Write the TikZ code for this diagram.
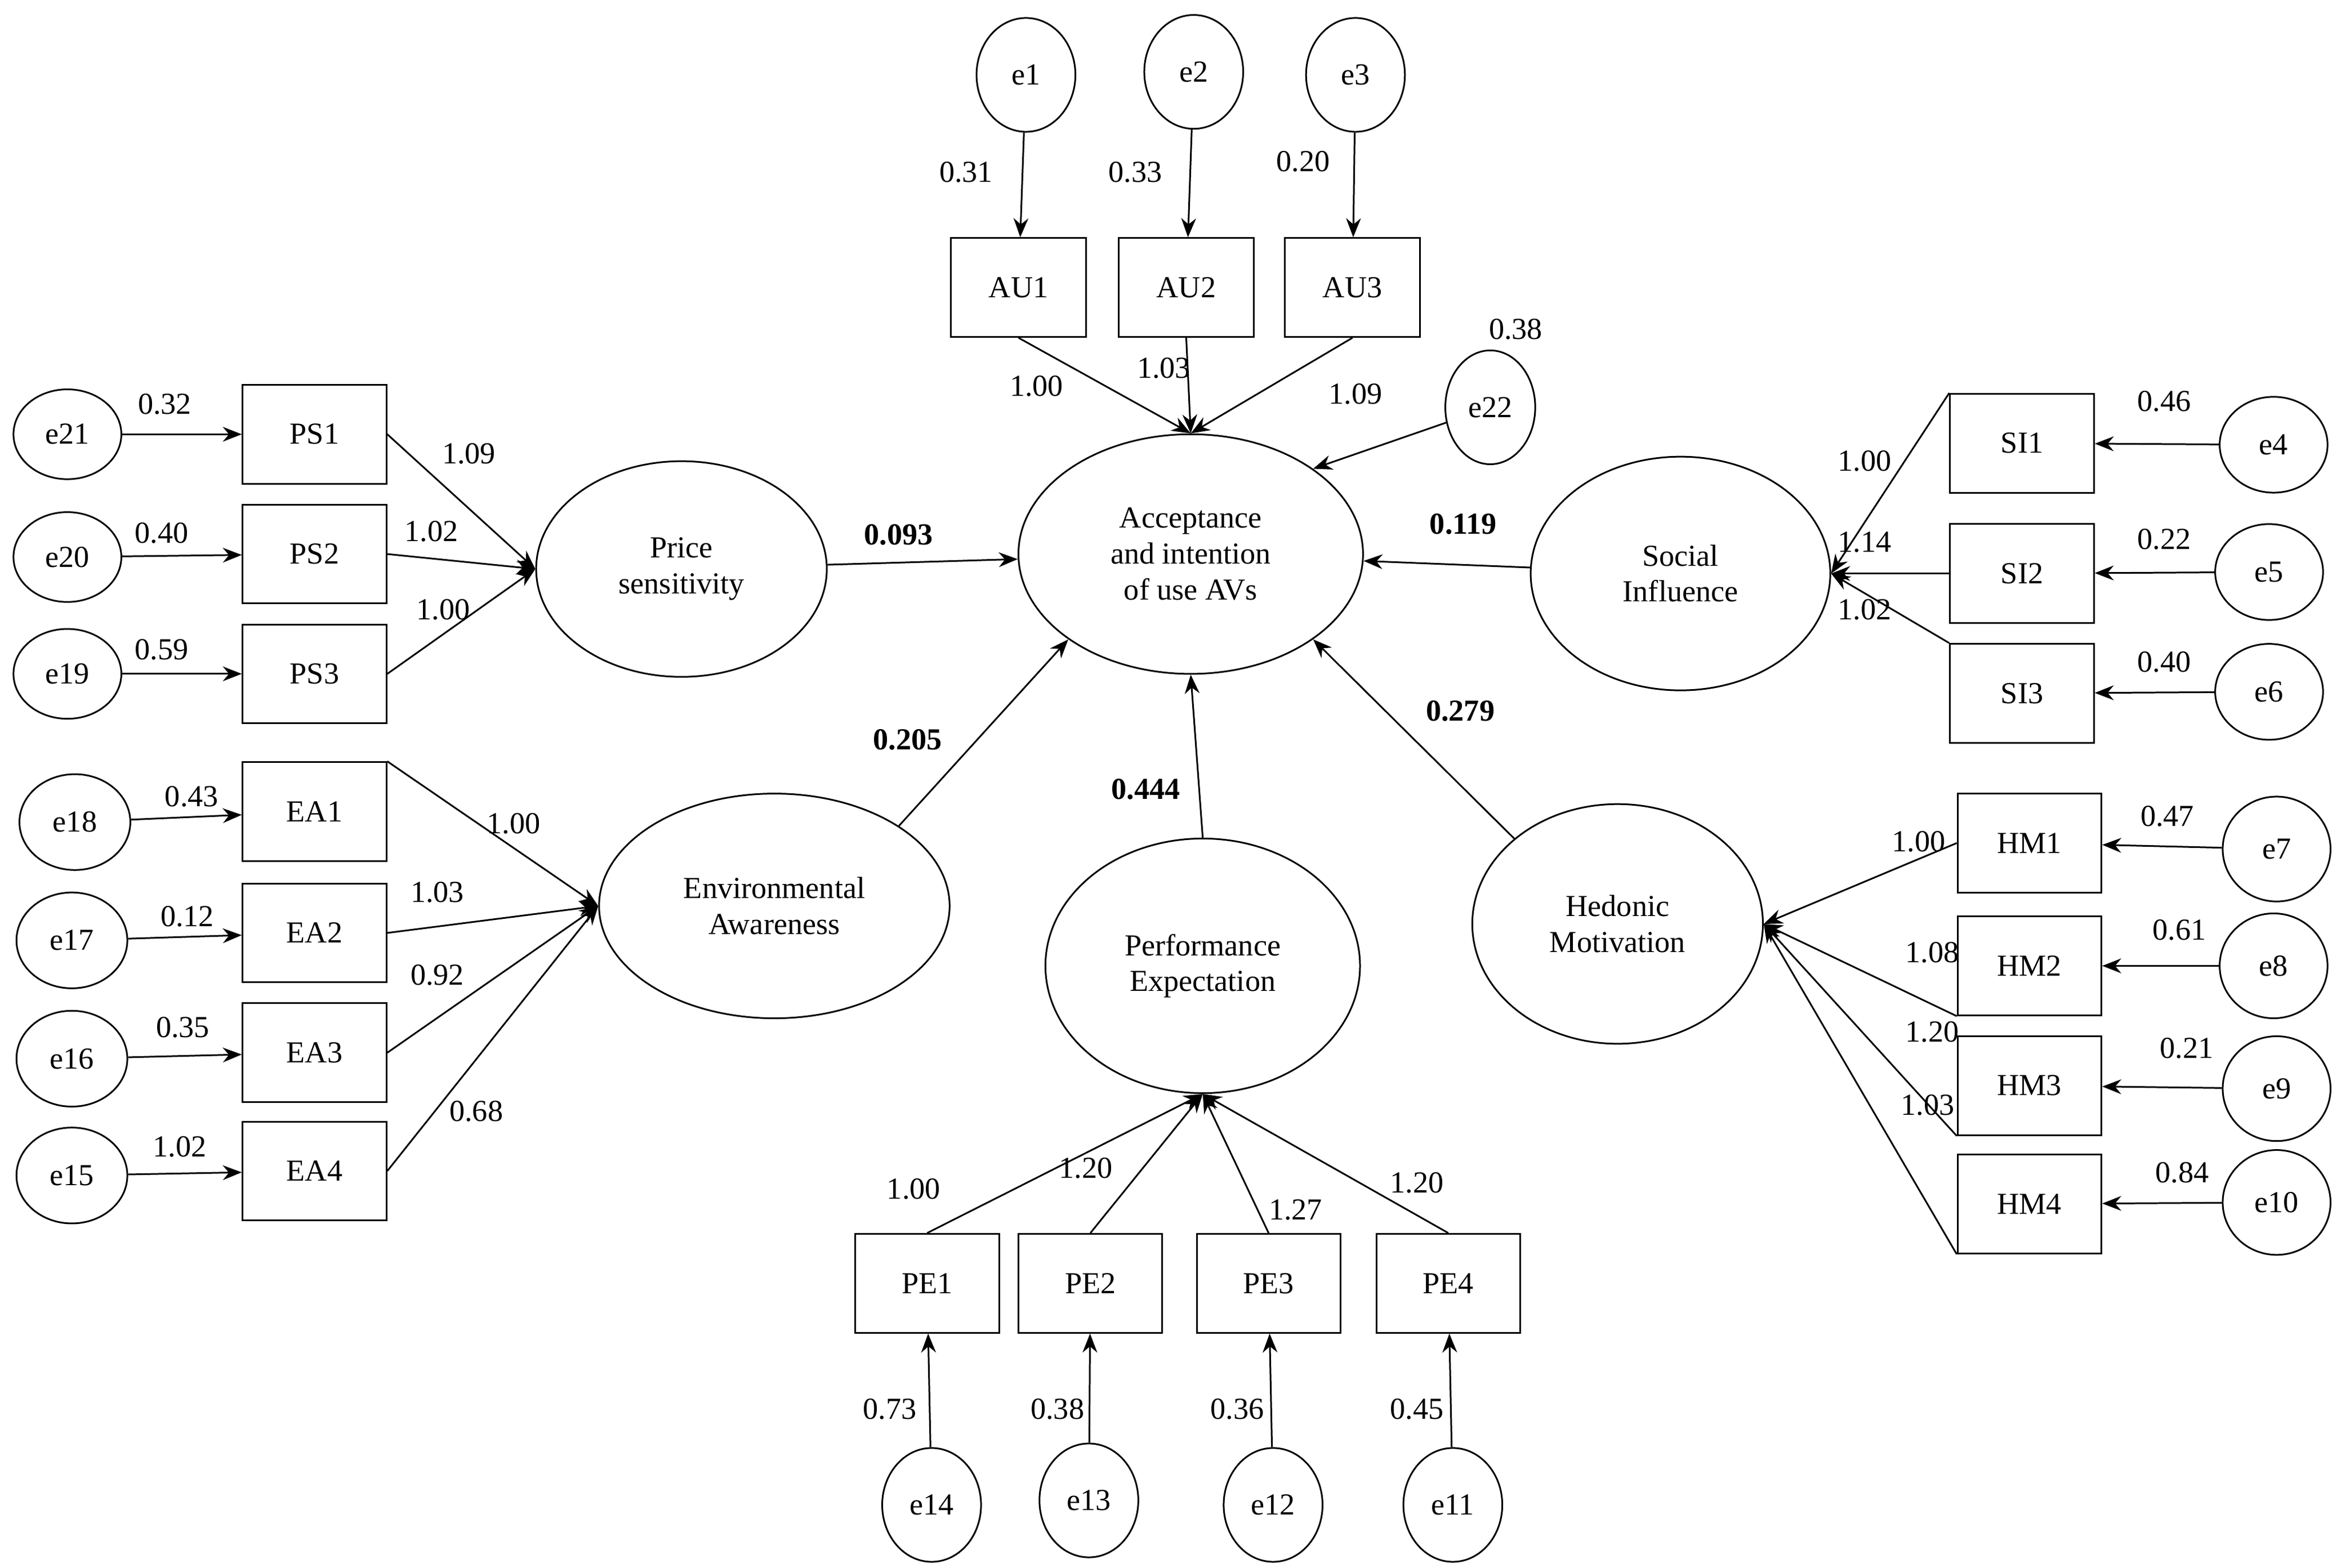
\documentclass[tikz,border=0pt]{standalone}
\usepackage{fontspec}
\setmainfont{Liberation Serif}
\usetikzlibrary{shapes.geometric,arrows.meta}
\begin{document}
\begin{tikzpicture}[x=0.025cm,y=-0.025cm,
  font=\fontsize{14.5}{17}\selectfont,
  box/.style={draw,line width=0.8pt,minimum width=2.4cm,minimum height=1.65cm,inner sep=0pt},
  lat/.style={ellipse,draw,line width=0.8pt,align=center,inner sep=0pt},
  err/.style={ellipse,draw,line width=0.8pt,minimum width=1.8cm,minimum height=1.65cm,inner sep=0pt},
  errv/.style={ellipse,draw,line width=0.8pt,minimum width=1.65cm,minimum height=1.9cm,inner sep=0pt},
  arr/.style={-{Stealth[length=9pt,width=7pt]},line width=0.8pt},
  lb/.style={inner sep=0pt},
  bl/.style={inner sep=0pt,font=\fontsize{14.5}{17}\selectfont\bfseries}]
\useasboundingbox (0,0) rectangle (1563,1047);
% central
\node[lat,minimum width=5.75cm,minimum height=4cm] (ACC) at (795,370) {Acceptance\\and intention\\of use AVs};
% AU
\node[errv] (e1) at (685,50) {e1};
\node[errv] (e2) at (797,48) {e2};
\node[errv] (e3) at (905,50) {e3};
\node[box,minimum width=2.25cm] (AU1) at (680,192) {AU1};
\node[box,minimum width=2.25cm] (AU2) at (792,192) {AU2};
\node[box,minimum width=2.25cm] (AU3) at (903,192) {AU3};
\foreach \i in {1,2,3}{\draw[arr] (e\i) -- (AU\i);}
\draw[arr] (AU1.south) -- (ACC.north);
\draw[arr] (AU2.south) -- (ACC.north);
\draw[arr] (AU3.south) -- (ACC.north);
\node[lb] at (645,115) {0.31};
\node[lb] at (758,115) {0.33};
\node[lb] at (870,108) {0.20};
\node[lb] at (692,258) {1.00};
\node[lb] at (777,246) {1.03};
\node[lb] at (905,263) {1.09};
\node[errv,minimum width=1.5cm] (e22) at (995,272) {e22};
\draw[arr] (e22) -- (ACC.north east);
\node[lb] at (1012,220) {0.38};
% PS
\node[lat,minimum width=4.85cm,minimum height=3.6cm] (PS) at (455,380) {Price\\sensitivity};
\node[box] (PS1) at (210,290) {PS1};
\node[box] (PS2) at (210,370) {PS2};
\node[box] (PS3) at (210,450) {PS3};
\node[err,minimum height=1.5cm] (e21) at (45,290) {e21};
\node[err,minimum height=1.5cm] (e20) at (45,372) {e20};
\node[err,minimum height=1.5cm] (e19) at (45,450) {e19};
\draw[arr] (e21) -- (PS1); \draw[arr] (e20) -- (PS2); \draw[arr] (e19) -- (PS3);
\foreach \i in {1,2,3}{\draw[arr] (PS\i.east) -- (PS.west);}
\node[lb] at (110,270) {0.32};
\node[lb] at (108,356) {0.40};
\node[lb] at (108,434) {0.59};
\node[lb] at (313,303) {1.09};
\node[lb] at (288,355) {1.02};
\node[lb] at (296,407) {1.00};
\draw[arr] (PS) -- (ACC);
\node[bl] at (600,357) {0.093};
% SI
\node[lat,minimum width=5cm,minimum height=3.9cm] (SI) at (1122,383) {Social\\Influence};
\node[box] (SI1) at (1350,296) {SI1};
\node[box] (SI2) at (1350,383) {SI2};
\node[box] (SI3) at (1350,463) {SI3};
\node[err,minimum height=1.6cm] (e4) at (1518,297) {e4};
\node[err,minimum height=1.6cm] (e5) at (1515,382) {e5};
\node[err,minimum height=1.6cm] (e6) at (1515,462) {e6};
\draw[arr] (e4) -- (SI1); \draw[arr] (e5) -- (SI2); \draw[arr] (e6) -- (SI3);
\draw[arr] (SI1.north west) -- (SI.east);
\draw[arr] (SI2.west) -- (SI.east);
\draw[arr] (SI3.north west) -- (SI.east);
\node[lb] at (1445,268) {0.46};
\node[lb] at (1445,360) {0.22};
\node[lb] at (1445,442) {0.40};
\node[lb] at (1245,308) {1.00};
\node[lb] at (1245,362) {1.14};
\node[lb] at (1245,407) {1.02};
\draw[arr] (SI) -- (ACC);
\node[bl] at (977,350) {0.119};
% EA
\node[lat,minimum width=5.85cm,minimum height=3.75cm] (EA) at (517,605) {Environmental\\Awareness};
\node[box] (EA1) at (210,542) {EA1};
\node[box] (EA2) at (210,623) {EA2};
\node[box] (EA3) at (210,703) {EA3};
\node[box] (EA4) at (210,782) {EA4};
\node[err,minimum width=1.85cm,minimum height=1.6cm] (e18) at (50,549) {e18};
\node[err,minimum width=1.85cm,minimum height=1.6cm] (e17) at (48,628) {e17};
\node[err,minimum width=1.85cm,minimum height=1.6cm] (e16) at (48,707) {e16};
\node[err,minimum width=1.85cm,minimum height=1.6cm] (e15) at (48,785) {e15};
\draw[arr] (e18) -- (EA1); \draw[arr] (e17) -- (EA2); \draw[arr] (e16) -- (EA3); \draw[arr] (e15) -- (EA4);
\draw[arr] (EA1.north east) -- (EA.west);
\draw[arr] (EA2.east) -- (EA.west);
\draw[arr] (EA3.east) -- (EA.west);
\draw[arr] (EA4.east) -- (EA.west);
\node[lb] at (128,532) {0.43};
\node[lb] at (125,612) {0.12};
\node[lb] at (122,686) {0.35};
\node[lb] at (120,766) {1.02};
\node[lb] at (343,550) {1.00};
\node[lb] at (292,596) {1.03};
\node[lb] at (292,651) {0.92};
\node[lb] at (318,742) {0.68};
\draw[arr] (EA.north east) -- (ACC.south west);
\node[bl] at (606,494) {0.205};
% PE
\node[lat,minimum width=5.25cm,minimum height=4.25cm] (PE) at (803,645) {Performance\\Expectation};
\node[box] (PE1) at (619,857) {PE1};
\node[box] (PE2) at (728,857) {PE2};
\node[box] (PE3) at (847,857) {PE3};
\node[box] (PE4) at (967,857) {PE4};
\node[errv] (e14) at (622,1005) {e14};
\node[errv] (e13) at (727,1002) {e13};
\node[errv] (e12) at (850,1005) {e12};
\node[errv] (e11) at (970,1005) {e11};
\draw[arr] (e14) -- (PE1); \draw[arr] (e13) -- (PE2); \draw[arr] (e12) -- (PE3); \draw[arr] (e11) -- (PE4);
\foreach \i in {1,2,3,4}{\draw[arr] (PE\i.north) -- (PE.south);}
\node[lb] at (594,941) {0.73};
\node[lb] at (706,941) {0.38};
\node[lb] at (826,941) {0.36};
\node[lb] at (946,941) {0.45};
\node[lb] at (610,794) {1.00};
\node[lb] at (725,780) {1.20};
\node[lb] at (865,808) {1.27};
\node[lb] at (946,790) {1.20};
\draw[arr] (PE.north) -- (ACC.south);
\node[bl] at (765,527) {0.444};
% HM
\node[lat,minimum width=4.85cm,minimum height=4cm] (HM) at (1080,617) {Hedonic\\Motivation};
\node[box] (HM1) at (1355,563) {HM1};
\node[box] (HM2) at (1355,645) {HM2};
\node[box] (HM3) at (1355,725) {HM3};
\node[box] (HM4) at (1355,804) {HM4};
\node[err,minimum height=1.75cm] (e7) at (1520,567) {e7};
\node[err,minimum height=1.75cm] (e8) at (1518,645) {e8};
\node[err,minimum height=1.75cm] (e9) at (1520,727) {e9};
\node[err,minimum height=1.75cm] (e10) at (1520,803) {e10};
\draw[arr] (e7) -- (HM1); \draw[arr] (e8) -- (HM2); \draw[arr] (e9) -- (HM3); \draw[arr] (e10) -- (HM4);
\draw[arr] (HM1.west) -- (HM.east);
\draw[arr] (HM2.south west) -- (HM.east);
\draw[arr] (HM3.south west) -- (HM.east);
\draw[arr] (HM4.south west) -- (HM.east);
\node[lb] at (1447,545) {0.47};
\node[lb] at (1455,621) {0.61};
\node[lb] at (1460,700) {0.21};
\node[lb] at (1457,783) {0.84};
\node[lb] at (1281,562) {1.00};
\node[lb] at (1290,636) {1.08};
\node[lb] at (1290,689) {1.20};
\node[lb] at (1287,738) {1.03};
\draw[arr] (HM.north west) -- (ACC.south east);
\node[bl] at (975,475) {0.279};
\end{tikzpicture}
\end{document}
